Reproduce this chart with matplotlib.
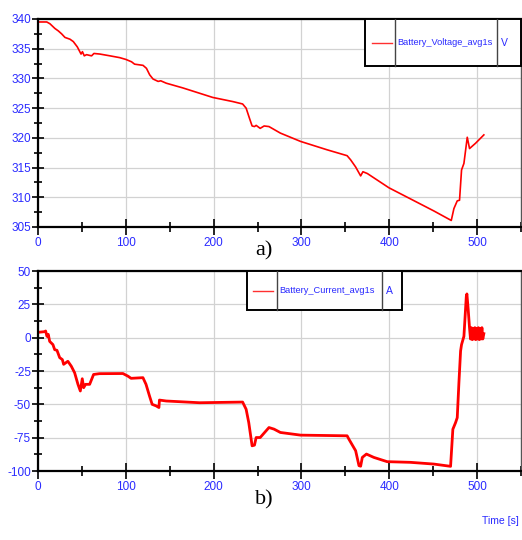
import matplotlib
matplotlib.use("Agg")
import matplotlib.pyplot as plt
import matplotlib.ticker as tk
from matplotlib.patches import Rectangle
from matplotlib.lines import Line2D

plt.rcParams['axes.unicode_minus'] = False

#######################
# Data
#######################
# a) battery voltage [V] vs time [s]
t_volt = [0, 10, 13.6, 19.3, 23.1, 26.9, 30.7, 36.4, 40.2, 44.8, 49, 50.6, 52.7,
          55.3, 61, 63.7, 70.5, 82, 93, 100, 106.5, 110, 119.6, 123.5, 127.2, 131,
          136.8, 139.8, 146, 165, 199, 222, 233, 237, 240.8, 243.8, 246.5, 248.4,
          253, 257.5, 263, 276, 299, 329, 352, 356, 361.7, 367.4, 370, 375, 399.6,
          450.8, 470.6, 473.6, 477.4, 480, 482.3, 485, 488.8, 491.4, 498.3, 507.7]
volt = [339.5, 339.5, 339.2, 338.4, 338.0, 337.5, 336.9, 336.6, 336.2, 335.3, 334.1,
        334.5, 333.8, 334.0, 333.8, 334.2, 334.1, 333.8, 333.5, 333.2, 332.8, 332.4,
        332.2, 331.7, 330.6, 329.9, 329.5, 329.6, 329.2, 328.4, 326.8, 326.1, 325.7,
        325.0, 323.3, 322.0, 321.9, 322.1, 321.6, 322.0, 321.9, 320.8, 319.4, 318.0,
        317.0, 316.3, 315.1, 313.6, 314.3, 314.0, 311.6, 307.7, 306.1, 308.1, 309.4,
        309.5, 314.6, 315.7, 320.1, 318.2, 319.1, 320.5]

# b) battery current [A] vs time [s]
t_curr = [0, 7.6, 8.7, 10.2, 11.7, 13.3, 17, 19, 21.6, 24.7, 27.7, 29.2, 34, 37.9,
          41.7, 45.5, 48.2, 50.4, 52, 54.2, 58.8, 63.3, 70, 96.7, 102.5, 106, 119.5,
          123, 127, 130, 134.6, 137.7, 138.3, 146, 184, 233, 237, 240, 243.8, 246.5,
          248.4, 253, 263, 268.8, 276, 299, 352, 354, 361.7, 365.5, 367.4, 369.3, 374,
          382.4, 397.6, 424, 450.8, 469.8, 472.4, 475.5, 477.4, 479.3, 481.2, 482.3,
          485, 487.7, 488.4, 489.9, 491.4, 492.5, 493.5, 494.5, 495.5, 496.5, 497.5,
          498.5, 499.5, 500.5, 501.5, 502.5, 503.5, 504.5, 505.5, 506.5, 507.7]
curr = [4.0, 4.5, 5.0, 1.0, 2.5, -2.8, -5.2, -9.0, -9.5, -15.0, -16.4, -20.0, -17.7,
        -21.4, -26.3, -35.0, -40.0, -30.8, -37.5, -35.0, -35.0, -27.6, -27.0, -26.9,
        -28.9, -30.5, -30.0, -35.0, -43.8, -50.0, -51.2, -52.4, -46.8, -47.5, -48.8,
        -48.3, -53.7, -63.7, -81.1, -80.6, -74.9, -74.9, -67.4, -68.6, -71.1, -73.1,
        -73.6, -76.1, -84.8, -96.0, -96.4, -89.8, -87.3, -89.8, -93.0, -93.5, -94.8,
        -96.5, -68.7, -63.7, -60.0, -33.8, -10.0, -5.2, 1.0, 30.8, 32.8, 20.9, 7.2,
        -1.0, 7.5, -1.5, 7.0, -1.0, 7.5, -1.5, 7.0, -1.0, 7.5, -1.5, 7.0, -1.0, 7.5,
        -1.0, 3.0]

volt_label = ['Battery_Voltage_avg1s', 'V']
curr_label = ['Battery_Current_avg1s', 'A']

#######################
# Style
#######################
blue = '#2a2aff'
tickfont = 'Liberation Sans'
W, H = 522.0, 540.0


def styleAxis(ax, ymin, ymax, ystep):
    ax.set_xlim(0, 550)
    ax.set_ylim(ymin, ymax)
    ax.xaxis.set_major_locator(tk.MultipleLocator(100))
    ax.xaxis.set_minor_locator(tk.MultipleLocator(50))
    ax.yaxis.set_major_locator(tk.MultipleLocator(ystep))
    ax.yaxis.set_minor_locator(tk.MultipleLocator(ystep / 2.0))
    ax.grid(True, which='major', color='#d2d2d2', lw=0.9)
    ax.set_axisbelow(True)
    ax.tick_params(axis='x', which='major', direction='inout', length=12, width=1.2,
                   pad=1, labelcolor=blue, labelsize=8.5)
    ax.tick_params(axis='x', which='minor', direction='inout', length=7, width=1.2)
    ax.tick_params(axis='y', which='major', direction='inout', length=8, width=1.2,
                   pad=1, labelcolor=blue, labelsize=8.5)
    ax.tick_params(axis='y', which='minor', direction='inout', length=6, width=1.2)
    for lab in ax.get_xticklabels() + ax.get_yticklabels():
        lab.set_family(tickfont)
    for s in ['left', 'bottom', 'top']:
        ax.spines[s].set_linewidth(1.6)
        ax.spines[s].set_color('black')
    ax.spines['right'].set_linewidth(1.0)
    ax.spines['right'].set_color('#555555')


def drawLegend(ax, x0, x1, d1, d2, y0, labels):
    # boxed legend with three cells: line sample | name | unit
    ax.add_patch(Rectangle((x0, y0), x1 - x0, 1.0 - y0, transform=ax.transAxes,
                           fc='white', ec='black', lw=1.4, zorder=5, clip_on=False))
    for d in [d1, d2]:
        ax.add_line(Line2D([d, d], [y0, 1.0], transform=ax.transAxes, color='#444444',
                           lw=1.0, zorder=6))
    ym = (y0 + 1.0) / 2.0
    ax.add_line(Line2D([x0 + 0.014, d1 - 0.007], [ym, ym],
                       transform=ax.transAxes, color='#ff3030', lw=1.0, zorder=6))
    ax.text(d1 + 0.005, ym, labels[0], transform=ax.transAxes, color=blue, fontsize=6.7,
            family=tickfont, va='center', ha='left', zorder=7)
    ax.text(d2 + 0.008, ym, labels[1], transform=ax.transAxes, color=blue, fontsize=7.5,
            family=tickfont, va='center', ha='left', zorder=7)


fig = plt.figure(figsize=(W / 100, H / 100), dpi=100)

### a) voltage
ax1 = fig.add_axes([38 / W, 1 - 227 / H, 483 / W, 208 / H])
styleAxis(ax1, 305, 340, 5)
ax1.plot(t_volt, volt, color='red', lw=1.2)
drawLegend(ax1, 0.677, 1.0, 0.739, 0.951, 0.774, volt_label)

### b) current
ax2 = fig.add_axes([38 / W, 1 - 471 / H, 483 / W, 200 / H])
styleAxis(ax2, -100, 50, 25)
ax2.plot(t_curr, curr, color='red', lw=2.0)
drawLegend(ax2, 0.4317, 0.7536, 0.4938, 0.7122, 0.805, curr_label)

fig.text(264 / W, 1 - 251 / H, 'a)', family='Liberation Serif', fontsize=16,
         ha='center', va='center')
fig.text(264 / W, 1 - 500 / H, 'b)', family='Liberation Serif', fontsize=16,
         ha='center', va='center')
fig.text(519 / W, 1 - 521 / H, 'Time [s]', family=tickfont,
         color=blue, fontsize=7.5, ha='right', va='center')

fig.savefig('out.png', dpi=100)
